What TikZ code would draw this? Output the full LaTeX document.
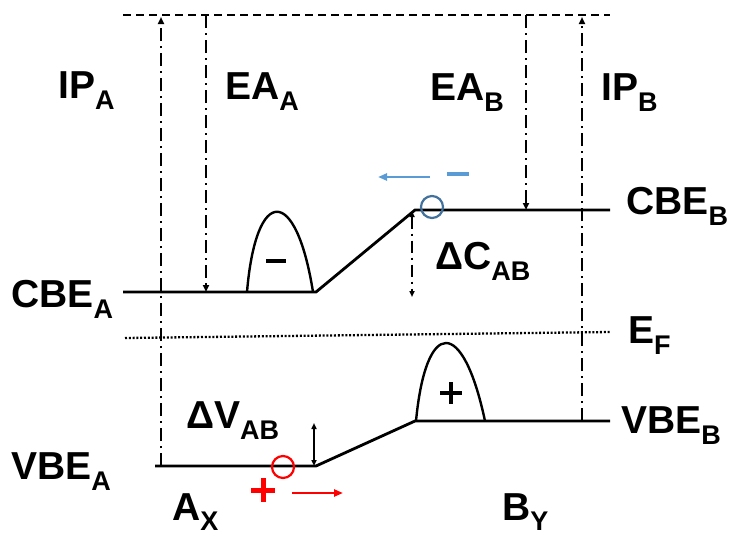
\documentclass[tikz,border=0pt]{standalone}
\usepackage{fontspec}
\setmainfont{Liberation Sans}
\usetikzlibrary{arrows.meta}
\definecolor{cblue}{RGB}{65,113,156}
\definecolor{lblue}{RGB}{91,155,213}
\definecolor{cred}{RGB}{255,0,0}
\newcommand\lbl[2]{#1\raisebox{-11pt}{\fontsize{27}{27}\selectfont #2}}
\newcommand\lbs[2]{#1\raisebox{-10pt}{\fontsize{27}{27}\selectfont\smash{#2}}}
\tikzset{
  lab/.style={anchor=base west,inner sep=0pt,font=\fontsize{39}{39}\selectfont\bfseries},
  band/.style={line width=2.8pt},
  dashdot/.style={line width=2pt,dash pattern=on 13pt off 5pt on 2pt off 5pt},
  topline/.style={line width=2pt,dash pattern=on 8pt off 5pt},
  fermi/.style={line width=2.3pt,dash pattern=on 2pt off 1.8pt},
  tip/.style={-{Triangle[length=7pt,width=6pt]}},
  dtip/.style={{Triangle[length=6pt,width=5pt]}-{Triangle[length=6pt,width=5pt]}},
}
\begin{document}
\begin{tikzpicture}[x=1pt,y=-1pt]
\useasboundingbox (0,0) rectangle (734,536);
% coordinates
\coordinate (tl) at (123,15);
\coordinate (tr) at (610,15);
\coordinate (ca0) at (123,292);
\coordinate (ca1) at (316,292);
\coordinate (cb0) at (415,210);
\coordinate (cb1) at (610,210);
\coordinate (va0) at (155,466);
\coordinate (va1) at (316,466);
\coordinate (vb0) at (415,421);
\coordinate (vb1) at (610,421);
\coordinate (ef0) at (125,338);
\coordinate (ef1) at (610,332);
% top vacuum level
\draw[topline] (tl) -- (tr);
% bands
\draw[band] (ca0) -- (ca1) -- (cb0) -- (cb1);
\draw[band] (va0) -- (va1) -- (vb0) -- (vb1);
\draw[fermi] (ef0) -- (ef1);
% bumps
\draw[line width=2.4pt] (247,292) .. controls (256,185) and (296,185) .. (313,292);
\draw[line width=3.2pt] (266,261) -- (286,261);
\draw[line width=2.4pt] (416,421) .. controls (426,317) and (463,317) .. (485,421);
\draw[line width=4.5pt] (440,393) -- (462,393) (451,382) -- (451,404);
% IP / EA arrows
\coordinate (ipa0) at (161,466); \coordinate (ipa1) at (161,17);
\coordinate (eaa0) at (206,15); \coordinate (eaa1) at (206,292);
\coordinate (eab0) at (526,15); \coordinate (eab1) at (526,210);
\coordinate (ipb0) at (582,421); \coordinate (ipb1) at (582,17);
\draw[dashdot,tip] (ipa0) -- (ipa1);
\draw[dashdot,tip] (eaa0) -- (eaa1);
\draw[dashdot,tip] (eab0) -- (eab1);
\draw[dashdot,tip] (ipb0) -- (ipb1);
% Delta C arrow
\coordinate (dc0) at (412,211); \coordinate (dc1) at (412,297);
\draw[line width=1.8pt,dash pattern=on 12pt off 5pt on 2pt off 5pt,dtip] (dc0) -- (dc1);
% Delta V arrow
\coordinate (dv0) at (314,423); \coordinate (dv1) at (314,466);
\draw[line width=1.8pt,dtip] (dv0) -- (dv1);
% electron (blue)
\node[draw=cblue,line width=2.2pt,circle,minimum size=22pt,inner sep=0pt] (el) at (432,207) {};
\coordinate (ea0) at (430,177); \coordinate (ea1) at (378,177);
\draw[lblue,line width=2.4pt,-{Triangle[length=9pt,width=7pt]}] (ea0) -- (ea1);
\draw[lblue,line width=4.5pt] (447,174) -- (469,174);
% hole (red)
\node[draw=cred,line width=2.2pt,circle,minimum size=22pt,inner sep=0pt] (ho) at (283,467) {};
\coordinate (ha0) at (292,493); \coordinate (ha1) at (343,493);
\draw[cred,line width=2.4pt,-{Triangle[length=9pt,width=7pt]}] (ha0) -- (ha1);
\draw[cred,line width=5pt] (251,490) -- (275,490) (263,478) -- (263,502);
% labels
\node[lab] (lipa) at (58,98) {\lbl{IP}{A}};
\node[lab] (leaa) at (225,99) {\lbl{EA}{A}};
\node[lab] (leab) at (430,100) {\lbl{EA}{B}};
\node[lab] (lipb) at (601,100) {\lbl{IP}{B}};
\node[lab] (lcbb) at (626,214) {\lbl{CBE}{B}};
\node[lab] (lcba) at (11,307) {\lbl{CBE}{A}};
\node[lab] (lef) at (628,343) {\lbl{E}{F}};
\node[lab] (lvbb) at (621,433) {\lbl{VBE}{B}};
\node[lab] (lvba) at (11,479) {\lbl{VBE}{A}};
\node[lab] (ldc) at (435,269) {\lbl{ΔC}{AB}};
\node[lab] (ldv) at (186,428) {\lbl{ΔV}{AB}};
\node[lab] (lax) at (172,520) {\lbs{A}{X}};
\node[lab] (lby) at (502,520) {\lbs{B}{Y}};
\end{tikzpicture}
\end{document}
